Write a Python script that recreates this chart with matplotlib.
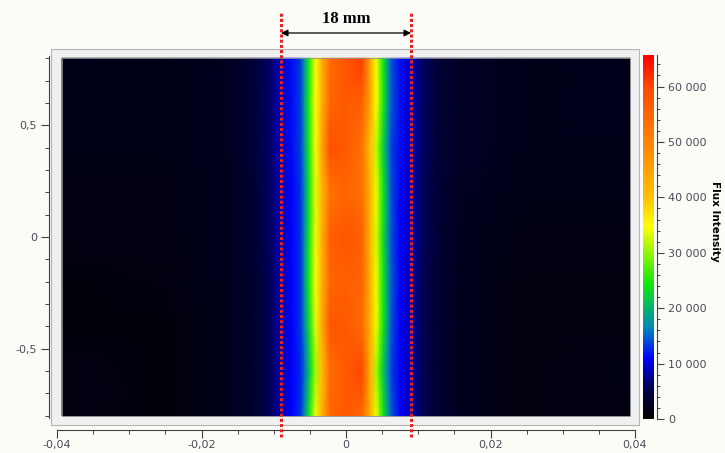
import numpy as np
import matplotlib
matplotlib.use("Agg")
import matplotlib.pyplot as plt
from matplotlib.colors import LinearSegmentedColormap, Normalize
from matplotlib.patches import Rectangle
from matplotlib.ticker import MultipleLocator, FuncFormatter

# flux map: sample positions (m) and flux values
X_NODES = [-0.0393, -0.025, -0.016, -0.0125, -0.0105, -0.009, -0.0075, -0.0063,
           -0.0057, -0.0052, -0.0047, -0.0042, -0.0034, -0.0022, 0.0,
           0.0022, 0.0034, 0.0042, 0.0047, 0.0052, 0.0057, 0.0063, 0.0075,
           0.009, 0.0105, 0.0125, 0.016, 0.025, 0.0393]
Y_NODES = [0.8, 0.6, 0.4, 0.2, 0.0, -0.2, -0.4, -0.6, -0.8]

FLUX = [
    [1800, 1700, 2400, 4200, 6300, 8800, 11500, 13500, 18000, 24000, 29500, 34500, 42000, 54000, 58000,
     61000, 43000, 34000, 29000, 24000, 18500, 14000, 11500, 8800, 6300, 4200, 2600, 1900, 2000],
    [1900, 1700, 2400, 4200, 6300, 8800, 11500, 13500, 18500, 24500, 30000, 35000, 42000, 55000, 57000,
     56000, 44000, 35000, 29500, 24500, 19000, 14500, 11500, 8800, 6300, 4200, 2600, 1900, 2200],
    [1700, 1700, 2400, 4200, 6300, 8800, 11500, 13500, 18000, 24000, 29500, 34500, 44000, 59000, 57000,
     53000, 40000, 32000, 27000, 22000, 17000, 13500, 11500, 8800, 6300, 4200, 2600, 1900, 1900],
    [1500, 1500, 2300, 4000, 6000, 8500, 11000, 13000, 17000, 23000, 28500, 33500, 41000, 53000, 55000,
     53000, 42000, 34000, 29000, 24000, 19000, 14000, 11000, 8500, 6000, 4000, 2400, 1700, 1700],
    [1300, 1300, 2200, 4000, 6000, 8500, 11000, 13000, 17500, 23500, 29000, 34000, 42000, 56000, 58000,
     56000, 41000, 33000, 28000, 23000, 18000, 14000, 11000, 8500, 6000, 4000, 2300, 1500, 1500],
    [1000, 1100, 2100, 3800, 5800, 8300, 11000, 13000, 18000, 24000, 29500, 34500, 42000, 55000, 56000,
     55000, 42000, 34000, 29000, 24000, 19000, 14500, 11000, 8300, 5800, 3800, 2200, 1200, 1200],
    [1000, 1000, 2100, 3800, 5800, 8300, 11000, 13000, 17000, 22500, 28000, 33500, 43000, 58000, 57000,
     54000, 42000, 34000, 29000, 24000, 19000, 14000, 11000, 8300, 5800, 3800, 2200, 1200, 1200],
    [1400, 1000, 2100, 3800, 5800, 8300, 11000, 12500, 15500, 20000, 25500, 31000, 40000, 54000, 57000,
     60000, 42000, 31000, 26000, 21000, 16500, 13500, 11000, 8300, 5800, 3800, 2200, 1200, 1600],
    [1400, 1000, 2100, 3800, 5800, 8300, 11000, 13000, 17500, 23500, 29000, 34000, 42000, 55000, 57000,
     55000, 42000, 34000, 29000, 24000, 19000, 14500, 11000, 8300, 5800, 3800, 2200, 1200, 1300],
]

VMAX = 65700
CB_TICKS = [0, 10000, 20000, 30000, 40000, 50000, 60000]
X_TICKS = [-0.04, -0.02, 0, 0.02, 0.04]
Y_TICKS = [-0.5, 0, 0.5]
MARK_X = [-0.009, 0.009]   # the 18 mm markers
MARK_LABEL = "18 mm"

CMAP_POS = [0.0, 0.08, 0.165, 0.25, 0.37, 0.53, 0.61, 0.76, 0.91, 1.0]
CMAP_COL = ['#000000', '#00004a', '#0000ff', '#0088b8', '#10e810', '#ffff00',
            '#ffc000', '#ff8400', '#ff4a00', '#ff0000']
cmap = LinearSegmentedColormap.from_list("flux", list(zip(CMAP_POS, CMAP_COL)))

W, H = 725, 453
fig = plt.figure(figsize=(W / 100, H / 100), dpi=100)
fig.patch.set_facecolor('#fdfdf8')

# grey panel behind the map
fig.add_artist(Rectangle((51 / W, 1 - 425 / H), 588 / W, 376 / H, transform=fig.transFigure,
                         facecolor='#f0f0f0', edgecolor='#b4b4b4', lw=0.8, zorder=-1))

ax = fig.add_axes([57 / W, 1 - 418 / H, 578 / W, 362 / H])
ax.set_facecolor('none')
xg, yg = np.meshgrid(X_NODES, Y_NODES)
mesh = ax.pcolormesh(xg, yg, np.array(FLUX), shading='gouraud', cmap=cmap,
                     norm=Normalize(0, VMAX))
ax.add_patch(Rectangle((X_NODES[0], Y_NODES[-1]), X_NODES[-1] - X_NODES[0],
                       Y_NODES[0] - Y_NODES[-1], fill=False, ec='#909090', lw=0.6))
ax.set_xlim(-0.04, 0.04)
ax.set_ylim(-0.81, 0.81)

for s in ['top', 'right']:
    ax.spines[s].set_visible(False)
ax.spines['left'].set_position(('outward', 5.8))
ax.spines['bottom'].set_position(('outward', 8.6))
for s in ['left', 'bottom']:
    ax.spines[s].set_color('#404040')
    ax.spines[s].set_linewidth(0.8)

fmt = FuncFormatter(lambda v, p: f"{v:g}".replace('.', ','))
ax.set_xticks(X_TICKS)
ax.set_yticks(Y_TICKS)
ax.xaxis.set_minor_locator(MultipleLocator(0.005))
ax.yaxis.set_minor_locator(MultipleLocator(0.1))
ax.xaxis.set_major_formatter(fmt)
ax.yaxis.set_major_formatter(fmt)
ax.tick_params(which='major', length=5.5, width=0.8, color='#404040', labelsize=8,
               labelcolor='#4a4a5a')
ax.tick_params(which='minor', length=3, width=0.7, color='#404040')
ax.tick_params(axis='x', which='major', pad=1.5)
ax.tick_params(axis='y', which='major', pad=3)

# 18 mm markers
for xm in MARK_X:
    ax.plot([xm, xm], [-0.895, 1.007], color='#e82020', lw=2.2, dashes=(1, 0.7),
            clip_on=False, zorder=5)
ax.annotate('', xy=(MARK_X[0], 0.913), xytext=(MARK_X[1], 0.913),
            arrowprops=dict(arrowstyle='<|-|>', color='black', lw=0.9, mutation_scale=10,
                            shrinkA=0, shrinkB=0), annotation_clip=False)
ax.text(0, 0.976, MARK_LABEL, ha='center', va='center', fontsize=12, fontweight='bold',
        family='Liberation Serif', clip_on=False)

# colour bar
cax = fig.add_axes([643 / W, 1 - 419 / H, 11 / W, 364 / H])
cb = fig.colorbar(mesh, cax=cax)
cb.outline.set_visible(False)
cb.set_ticks(CB_TICKS)
cb.ax.yaxis.set_minor_locator(MultipleLocator(2000))
cb.ax.yaxis.set_major_formatter(FuncFormatter(lambda v, p: f"{int(v):,}".replace(',', ' ')))
cax.spines['right'].set_visible(True)
cax.spines['right'].set_position(('outward', 2.5))
cax.spines['right'].set_color('#404040')
cax.spines['right'].set_linewidth(0.8)
cax.tick_params(which='major', length=5, width=0.8, color='#404040', labelsize=8,
                labelcolor='#4a4a5a', pad=2.5)
cax.tick_params(which='minor', length=2.5, width=0.7, color='#404040')
fig.text(715 / W, 1 - 221 / H, "Flux Intensity", rotation=270, ha='center', va='center',
         fontsize=7.5, fontweight='bold')

fig.savefig("out.png", dpi=100, facecolor=fig.get_facecolor())
